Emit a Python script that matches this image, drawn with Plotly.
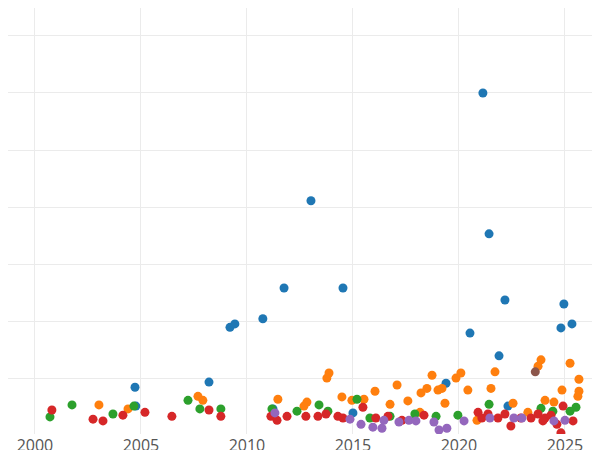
import plotly.graph_objects as go

# year / value pairs per group
blue_x = [2004.72, 2008.21, 2009.20, 2009.43, 2010.75, 2011.75, 2013.02, 2014.53, 2021.13, 2021.42,
          2020.52, 2022.17, 2021.89, 2019.39, 2024.95, 2024.81, 2025.33, 2004.76, 2011.23, 2015.0, 2022.31]
blue_y = [84, 93, 189, 195, 204, 258, 411, 258, 600, 353, 179, 237, 139, 91, 230, 188, 195, 51, 46, 39, 51]

orange_x = [2003.02, 2004.39, 2007.69, 2007.92, 2011.46, 2012.83, 2013.87, 2013.77, 2014.48, 2014.95,
            2015.52, 2016.04, 2017.08, 2017.59, 2016.75, 2018.21, 2018.49, 2018.73, 2019.01, 2019.20,
            2019.34, 2019.86, 2020.09, 2020.42, 2020.85, 2021.51, 2021.70, 2022.55, 2023.73, 2023.87,
            2024.06, 2024.48, 2024.86, 2025.24, 2025.66, 2025.66, 2025.61, 2012.69, 2018.16, 2023.25]
orange_y = [53, 46, 68, 61, 63, 58, 109, 100, 67, 61, 63, 77, 88, 60, 54, 74, 82, 105, 79, 82,
            56, 100, 109, 79, 26, 82, 111, 56, 121, 132, 61, 58, 79, 126, 98, 77, 68, 51, 40, 40]

green_x = [2000.71, 2001.75, 2003.68, 2004.67, 2007.22, 2007.78, 2008.77, 2011.18, 2012.36, 2013.40,
           2013.82, 2015.19, 2015.80, 2016.75, 2017.92, 2018.92, 2019.95, 2021.42, 2023.87, 2024.43,
           2025.52, 2025.24]
green_y = [32, 53, 37, 51, 61, 46, 46, 46, 42, 53, 42, 63, 30, 33, 37, 33, 35, 54, 47, 42, 49, 42]

red_x = [2000.80, 2002.74, 2003.21, 2004.15, 2005.19, 2006.46, 2008.21, 2008.77, 2011.13, 2011.42,
         2011.89, 2012.78, 2013.35, 2013.73, 2014.29, 2014.53, 2015.47, 2016.08, 2016.65, 2017.31,
         2018.35, 2020.90, 2021.08, 2021.37, 2021.84, 2022.17, 2022.45, 2022.92, 2023.40, 2023.73,
         2024.06, 2024.34, 2024.62, 2024.91, 2024.81, 2025.38, 2023.96]
red_y = [44, 28, 25, 35, 40, 33, 44, 33, 33, 26, 33, 33, 33, 37, 33, 30, 49, 30, 33, 26,
         35, 40, 30, 37, 30, 37, 16, 30, 30, 37, 30, 35, 19, 51, 4, 25, 25]

purple_x = [2011.32, 2014.86, 2015.38, 2015.94, 2016.37, 2016.46, 2017.17, 2017.64, 2017.97, 2018.82,
            2019.06, 2019.43, 2020.24, 2021.46, 2022.59, 2022.97, 2024.48, 2025.0]
purple_y = [39, 28, 19, 14, 12, 26, 23, 26, 25, 23, 9, 12, 25, 30, 30, 30, 25, 26]

brown_x = [2023.6]
brown_y = [111]

groups = [
    (blue_x, blue_y, "#1f77b4"),
    (orange_x, orange_y, "#ff7f0e"),
    (green_x, green_y, "#2ca02c"),
    (red_x, red_y, "#d62728"),
    (purple_x, purple_y, "#9467bd"),
    (brown_x, brown_y, "#8c564b"),
]

fig = go.Figure()
for xs, ys, color in groups:
    fig.add_trace(go.Scatter(x=xs, y=ys, mode="markers", cliponaxis=True,
                             marker=dict(color=color, size=9), showlegend=False))

fig.update_layout(
    width=600, height=450,
    plot_bgcolor="white", paper_bgcolor="white",
    margin=dict(l=0, r=0, t=0, b=24, pad=0),
    font=dict(family="Open Sans", size=16, color="#555"),
)
fig.update_xaxes(range=[1998.73, 2027.03], dtick=5, showgrid=True, gridcolor="#ebebeb",
                 zeroline=False, ticks="", automargin=False)
fig.update_yaxes(range=[2, 749], dtick=100, showgrid=True, gridcolor="#ebebeb",
                 zeroline=False, showticklabels=False, automargin=False)

fig.write_html("out.html")
